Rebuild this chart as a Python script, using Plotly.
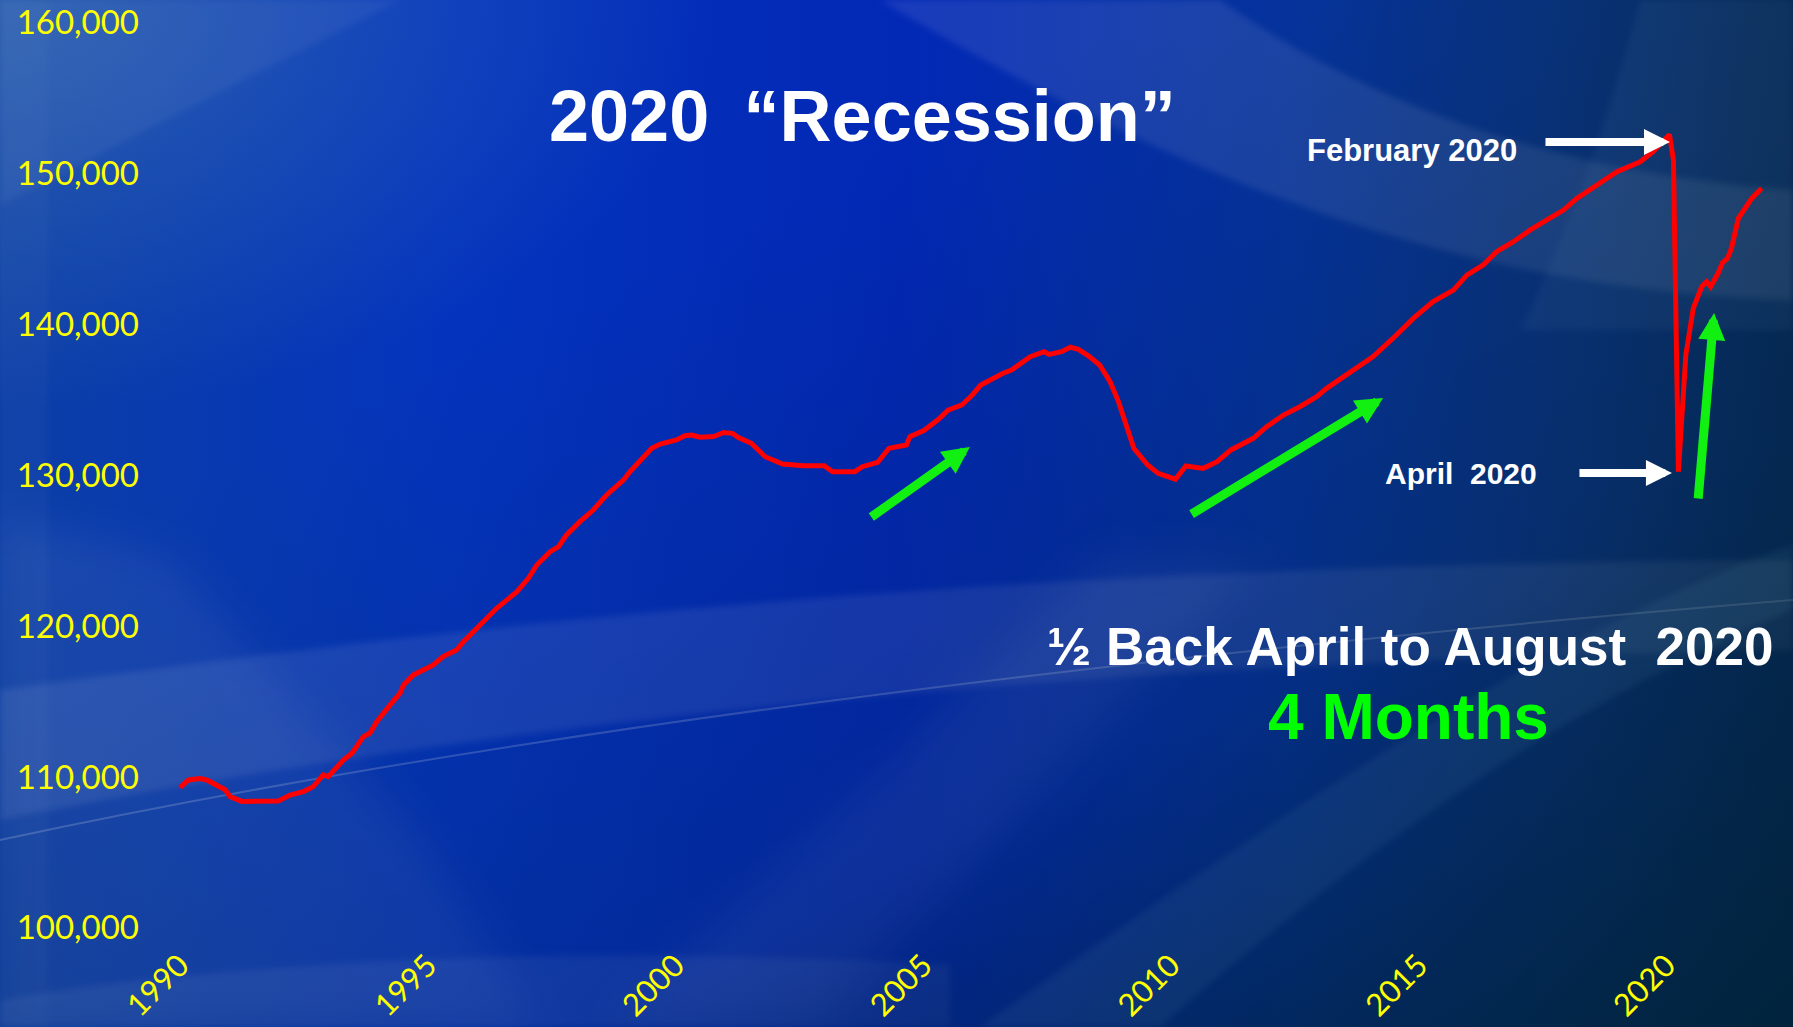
import base64
import plotly.graph_objects as go

# ---- data (decimal year, thousands of jobs) ----
years = [1990.00, 1990.17, 1990.40, 1990.54, 1990.91, 1991.01, 1991.25, 1991.55, 1991.82, 1991.98,
         1992.22, 1992.49, 1992.69, 1992.89, 1992.99, 1993.30, 1993.47, 1993.70, 1993.83, 1993.97,
         1994.24, 1994.44, 1994.51, 1994.71, 1994.98, 1995.11, 1995.31, 1995.58, 1995.72, 1995.99,
         1996.12, 1996.39, 1996.80, 1997.03, 1997.20, 1997.47, 1997.64, 1997.80, 1998.07, 1998.24,
         1998.34, 1998.61, 1998.95, 1999.08, 1999.35, 1999.52, 1999.69, 2000.02, 2000.19, 2000.33,
         2000.49, 2000.77, 2000.97, 2001.15, 2001.26, 2001.53, 2001.81, 2002.16, 2002.58, 2002.86,
         2003.00, 2003.17, 2003.62, 2003.77, 2004.08, 2004.31, 2004.66, 2004.73, 2005.01, 2005.29,
         2005.50, 2005.78, 2005.99, 2006.16, 2006.34, 2006.61, 2006.78, 2006.96, 2007.16, 2007.44,
         2007.54, 2007.79, 2007.97, 2008.13, 2008.34, 2008.56, 2008.77, 2008.94, 2009.12, 2009.25,
         2009.53, 2009.74, 2010.09, 2010.30, 2010.65, 2010.93, 2011.21, 2011.39, 2011.66,
         2011.93, 2012.27, 2012.60, 2012.94, 2013.14, 2013.54, 2014.08, 2014.55, 2014.89, 2015.29,
         2015.70, 2015.97, 2016.30, 2016.57, 2016.91, 2017.25, 2017.58, 2017.92, 2018.19, 2018.59,
         2019.00, 2019.47, 2019.73, 2020.06, 2020.14, 2020.24, 2020.30, 2020.39, 2020.54, 2020.71,
         2020.81, 2020.89, 2021.04, 2021.13, 2021.23, 2021.31, 2021.45, 2021.72, 2021.92]

payrolls = [109300, 109800, 109900, 109800, 109150, 108700, 108380, 108370, 108380, 108400,
            108800, 109030, 109360, 110130, 110020, 111130, 111570, 112670, 112890, 113660,
            114770, 115550, 116090, 116760, 117200, 117420, 117970, 118410, 118960, 119850,
            120290, 121170, 122270, 123160, 124040, 124920, 125250, 126030, 126910, 127350,
            127680, 128680, 129670, 130220, 131110, 131770, 132050, 132320, 132600, 132650,
            132500, 132550, 132820, 132760, 132500, 132100, 131210, 130730, 130620, 130660,
            130620, 130220, 130220, 130550, 130840, 131770, 131990, 132540, 132940, 133640,
            134300, 134640, 135300, 135960, 136290, 136740, 136950, 137400, 137840, 138170,
            137990, 138170, 138460, 138320, 137880, 137290, 136180, 134860, 133200, 131770,
            130660, 130110, 129720, 130600, 130440, 130880, 131660, 131990, 132430,
            133200, 133970, 134520, 135190, 135740, 136620, 137840, 139270, 140370, 141480,
            142250, 143240, 143910, 144790, 145450, 146230, 146890, 147550, 148320, 149210,
            150090, 150750, 151410, 152550, 150860, 130220, 133200, 137950, 141040, 142470,
            142800, 142470, 143360, 144060, 144350, 145010, 147000, 148320, 148990]

x_ticks = [1990, 1995, 2000, 2005, 2010, 2015, 2020]
x_tick_labels = ["1990", "1995", "2000", "2005", "2010", "2015", "2020"]
y_ticks = [100000, 110000, 120000, 130000, 140000, 150000, 160000]
y_tick_labels = ["100,000", "110,000", "120,000", "130,000", "140,000", "150,000", "160,000"]

# ---- page geometry ----
W, H = 1793, 1027
ML, MR, MT, MB = 140, 0, 22, 99
PW, PH = W - ML - MR, H - MT - MB
PX_PER_YEAR = 49.55
X0 = 1990 - (180 - ML) / PX_PER_YEAR
X1 = X0 + PW / PX_PER_YEAR


def pxx(x):
    return (x - ML) / PW


def pxy(y):
    return (H - MB - y) / PH


# ---- decorative background (gradient + soft swooshes) ----
svg = f"""<svg xmlns="http://www.w3.org/2000/svg" width="{W}" height="{H}" viewBox="0 0 {W} {H}">
<defs>
<linearGradient id="base" x1="0" y1="0" x2="1" y2="0">
<stop offset="0" stop-color="#0c3ea6"/>
<stop offset="0.25" stop-color="#0434bd"/>
<stop offset="0.5" stop-color="#0228b6"/>
<stop offset="0.72" stop-color="#05339e"/>
<stop offset="0.88" stop-color="#09337a"/>
<stop offset="1" stop-color="#062b58"/>
</linearGradient>
<linearGradient id="dark" x1="0.35" y1="0.25" x2="1" y2="1">
<stop offset="0" stop-color="#00203c" stop-opacity="0"/>
<stop offset="0.55" stop-color="#00203c" stop-opacity="0.25"/>
<stop offset="1" stop-color="#00233a" stop-opacity="0.9"/>
</linearGradient>
<radialGradient id="tl" cx="0" cy="0" r="0.4">
<stop offset="0" stop-color="#4a7fb8" stop-opacity="0.5"/>
<stop offset="1" stop-color="#4a7fb8" stop-opacity="0"/>
</radialGradient>
<filter id="soft" x="-10%" y="-10%" width="120%" height="120%">
<feGaussianBlur stdDeviation="3"/>
</filter>
<filter id="soft2" x="-10%" y="-10%" width="120%" height="120%">
<feGaussianBlur stdDeviation="20"/>
</filter>
</defs>
<rect width="{W}" height="{H}" fill="url(#base)"/>
<rect width="{W}" height="{H}" fill="url(#tl)"/>
<g filter="url(#soft)">
<path d="M0,0 L400,0 L0,205 Z" fill="#ffffff" fill-opacity="0.05"/>
<path d="M0,0 L48,0 L48,1027 L0,1027 Z" fill="#ffffff" fill-opacity="0.025"/>
<path d="M0,690 C500,620 1000,565 1793,560 L1793,650 C1100,660 500,720 0,820 Z" fill="#ffffff" fill-opacity="0.09"/>
<path d="M0,1000 Q400,935 950,965 L950,1027 L0,1027 Z" fill="#ffffff" fill-opacity="0.07"/>
<path d="M880,0 C1100,130 1400,290 1793,300 L1793,190 C1500,170 1320,70 1220,0 Z" fill="#ffffff" fill-opacity="0.09"/>
<path d="M1640,0 C1600,150 1560,250 1520,330 L1793,330 L1793,0 Z" fill="#8fb8e0" fill-opacity="0.07"/>
</g>
<g filter="url(#soft2)">
<path d="M0,520 L170,557 L420,840 L540,1027 L0,1027 Z" fill="#ffffff" fill-opacity="0.06"/>
<path d="M1100,560 L1260,560 L820,1027 L610,1027 Z" fill="#ffffff" fill-opacity="0.06"/>
</g>
<path d="M0,840 Q700,690 1793,600" stroke="#ffffff" stroke-opacity="0.2" stroke-width="2" fill="none"/>
<rect width="{W}" height="{H}" fill="url(#dark)"/>
<g filter="url(#soft)">
<path d="M980,1027 C1300,800 1550,630 1793,545 L1793,610 C1550,710 1350,860 1160,1027 Z" fill="#7fc0d0" fill-opacity="0.08"/>
</g>
</svg>"""
bg_uri = "data:image/svg+xml;base64," + base64.b64encode(svg.encode()).decode()

fig = go.Figure()
fig.add_trace(go.Scatter(
    x=years, y=payrolls, mode="lines",
    line=dict(color="#ff0000", width=5), hoverinfo="skip", showlegend=False,
))

WHITE_FONT = dict(family="Liberation Sans, Arial, sans-serif", color="#ffffff", weight="bold")

annotations = [
    dict(text="2020 \u2009\u201cRecession\u201d", x=pxx(862), y=pxy(116), xref="paper", yref="paper",
         showarrow=False, xanchor="center", yanchor="middle", font=dict(size=72, **WHITE_FONT)),
    dict(text="February 2020", x=pxx(1412), y=pxy(150), xref="paper", yref="paper",
         showarrow=False, xanchor="center", yanchor="middle", font=dict(size=31, **WHITE_FONT)),
    dict(text="April \u00a02020", x=pxx(1461), y=pxy(473), xref="paper", yref="paper",
         showarrow=False, xanchor="center", yanchor="middle", font=dict(size=30, **WHITE_FONT)),
    dict(text="\u00bd Back April to August \u00a02020", x=pxx(1410), y=pxy(646), xref="paper", yref="paper",
         showarrow=False, xanchor="center", yanchor="middle", font=dict(size=53, **WHITE_FONT)),
    dict(text="4 Months", x=pxx(1408), y=pxy(717), xref="paper", yref="paper",
         showarrow=False, xanchor="center", yanchor="middle",
         font=dict(size=64, family="Liberation Sans, Arial, sans-serif", color="#00ff00", weight="bold")),
    # white pointer arrows
    dict(x=2020.07, y=152050, xref="x", yref="y", ax=-126, ay=0, text="", showarrow=True,
         arrowhead=2, arrowwidth=8, arrowsize=0.65, arrowcolor="#ffffff", standoff=0),
    dict(x=2020.11, y=130130, xref="x", yref="y", ax=-94, ay=0, text="", showarrow=True,
         arrowhead=2, arrowwidth=8, arrowsize=0.65, arrowcolor="#ffffff", standoff=0),
    # green trend arrows
    dict(x=2005.94, y=131850, xref="x", yref="y", ax=-100, ay=71, text="", showarrow=True,
         arrowhead=2, arrowwidth=9, arrowsize=0.6, arrowcolor="#11f011", standoff=0),
    dict(x=2014.28, y=135100, xref="x", yref="y", ax=-193, ay=117, text="", showarrow=True,
         arrowhead=2, arrowwidth=9, arrowsize=0.6, arrowcolor="#11f011", standoff=0),
    dict(x=2020.96, y=140730, xref="x", yref="y", ax=-16, ay=187, text="", showarrow=True,
         arrowhead=2, arrowwidth=9, arrowsize=0.6, arrowcolor="#11f011", standoff=0),
]

fig.update_layout(
    width=W, height=H, autosize=False,
    margin=dict(l=ML, r=MR, t=MT, b=MB, pad=0, autoexpand=False),
    paper_bgcolor="#0530a8", plot_bgcolor="rgba(0,0,0,0)",
    images=[dict(source=bg_uri, xref="paper", yref="paper", x=pxx(0), y=pxy(0),
                 sizex=W / PW, sizey=H / PH, sizing="stretch", xanchor="left", yanchor="top",
                 layer="below")],
    annotations=annotations,
    xaxis=dict(range=[X0, X1], tickvals=x_ticks, ticktext=x_tick_labels, tickangle=-45,
               showgrid=False, zeroline=False, showline=False, ticks="", automargin=False,
               ticklabeloverflow="allow",
               tickfont=dict(family="Lato, sans-serif", size=31, color="#ffff00"),
               ticklabelstandoff=12),
    yaxis=dict(range=[99995, 160005], tickvals=y_ticks, ticktext=y_tick_labels,
               showgrid=False, zeroline=False, showline=False, ticks="", automargin=False,
               ticklabeloverflow="allow",
               tickfont=dict(family="Lato, sans-serif", size=33, color="#ffff00")),
)

fig.write_html("out.html")
